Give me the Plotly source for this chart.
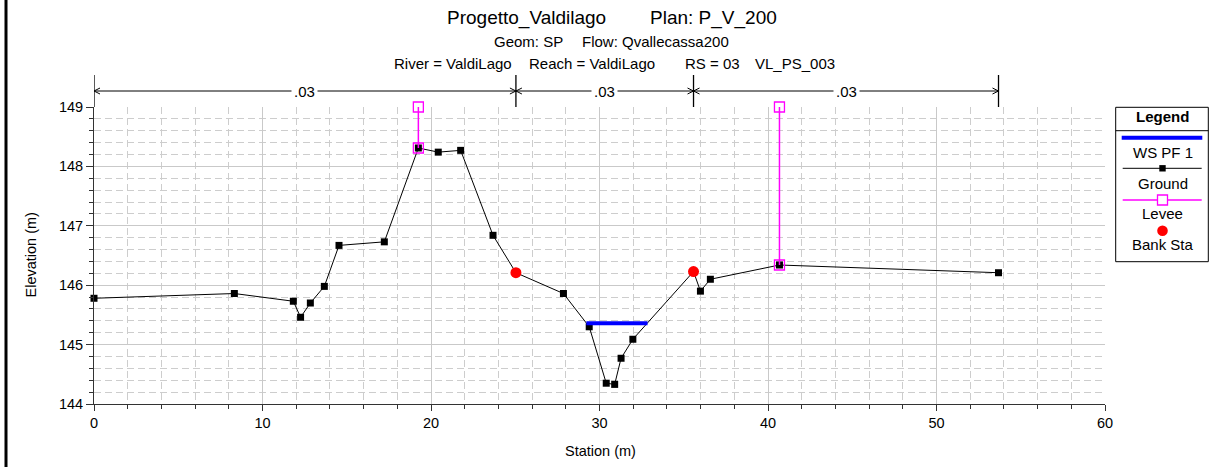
import plotly.graph_objects as go

# ---------------- data ----------------
ground_sta = [0.0, 8.33, 11.83, 12.26, 12.84, 13.67, 14.54, 17.23, 19.25, 20.43, 21.76,
              23.68, 25.04, 27.86, 29.39, 30.40, 30.90, 31.28, 31.98, 35.58, 35.99,
              36.58, 40.68, 53.68]
ground_elev = [145.78, 145.86, 145.73, 145.46, 145.70, 145.98, 146.67, 146.73, 148.31,
               148.24, 148.27, 146.84, 146.21, 145.86, 145.30, 144.35, 144.33, 144.77,
               145.09, 146.23, 145.90, 146.10, 146.34, 146.21]

ws_sta = [29.22, 32.85]
ws_elev = [145.36, 145.36]

levee_sta = [19.25, 40.68]
levee_top = [149.0, 149.0]
levee_ground = [148.31, 146.34]

bank_sta = [25.04, 35.58]
bank_elev = [146.21, 146.23]

n_sta = [0.0, 25.04, 35.58, 53.68]
n_vals = [".03", ".03", ".03"]

x_range = [0, 60]
y_range = [144, 149]
x_ticks = [0, 10, 20, 30, 40, 50, 60]
y_ticks = [144, 145, 146, 147, 148, 149]

# ---------------- layout geometry (pixels) ----------------
W_FIG, H_FIG = 1215, 467
L, R, T, B = 94, 1105, 107, 404
PW, PH = R - L, B - T
FONT = "Liberation Sans, Arial, sans-serif"


def px(x):
    return (x - L) / PW


def py(y):
    return (B - y) / PH


fig = go.Figure()

# Ground
fig.add_trace(go.Scatter(
    x=ground_sta, y=ground_elev, mode="lines+markers", name="Ground",
    line=dict(color="black", width=1),
    marker=dict(symbol="square", size=7, color="black"),
    cliponaxis=False, showlegend=False))

# Water surface
fig.add_trace(go.Scatter(
    x=ws_sta, y=ws_elev, mode="lines", name="WS PF 1",
    line=dict(color="#0000ff", width=4), showlegend=False))

# Levees
lx, ly = [], []
for s, top, g in zip(levee_sta, levee_top, levee_ground):
    lx += [s, s, None]
    ly += [top, g, None]
fig.add_trace(go.Scatter(
    x=lx, y=ly, mode="lines+markers", name="Levee",
    line=dict(color="#ff00ff", width=1.5),
    marker=dict(symbol="square-open", size=10, color="#ff00ff", line=dict(width=1.3)),
    cliponaxis=False, showlegend=False))

# Bank stations
fig.add_trace(go.Scatter(
    x=bank_sta, y=bank_elev, mode="markers", name="Bank Sta",
    marker=dict(symbol="circle", size=11, color="#ff0000"),
    cliponaxis=False, showlegend=False))

shapes = []
annotations = []

# ---------- Manning's n bar above the plot ----------
n_y = py(91)
x_per_px = (x_range[1] - x_range[0]) / PW
dx = 6 * x_per_px
dy = 3 / PH
shapes.append(dict(type="line", xref="x", yref="paper", x0=n_sta[0], x1=n_sta[-1],
                   y0=n_y, y1=n_y, line=dict(color="black", width=1)))
for s in n_sta:
    shapes.append(dict(type="line", xref="x", yref="paper", x0=s, x1=s,
                       y0=1.0, y1=py(75), line=dict(color="black", width=1.3)))
for a, b_ in zip(n_sta[:-1], n_sta[1:]):
    shapes.append(dict(type="path", xref="x", yref="paper",
                       path=f"M {a+dx},{n_y+dy} L {a},{n_y} L {a+dx},{n_y-dy}",
                       line=dict(color="black", width=1)))
    shapes.append(dict(type="path", xref="x", yref="paper",
                       path=f"M {b_-dx},{n_y+dy} L {b_},{n_y} L {b_-dx},{n_y-dy}",
                       line=dict(color="black", width=1)))
for a, b_, v in zip(n_sta[:-1], n_sta[1:], n_vals):
    annotations.append(dict(x=(a + b_) / 2, y=n_y, xref="x", yref="paper", text=v,
                            showarrow=False, bgcolor="white", borderpad=2,
                            font=dict(family=FONT, size=15, color="black"),
                            xanchor="center", yanchor="middle"))

# ---------- titles ----------
title_parts = [
    ("Progetto_Valdilago", 445, 17.8, 19),
    ("Plan: P_V_200", 648, 17.8, 19),
    ("Geom: SP", 492, 41.2, 15),
    ("Flow: Qvallecassa200", 580, 41.2, 15),
    ("River = ValdiLago", 392, 63.3, 15),
    ("Reach = ValdiLago", 527, 63.3, 15),
    ("RS = 03", 683, 63.3, 15),
    ("VL_PS_003", 753, 63.3, 15),
]
for txt, xl, yc, sz in title_parts:
    annotations.append(dict(x=px(xl), y=py(yc), xref="paper", yref="paper", text=txt,
                            showarrow=False, xanchor="left", yanchor="middle",
                            font=dict(family=FONT, size=sz, color="black")))

# axis titles
annotations.append(dict(x=px(600), y=py(451), xref="paper", yref="paper", text="Station (m)",
                        showarrow=False, xanchor="center", yanchor="middle",
                        font=dict(family=FONT, size=14.5, color="black")))
annotations.append(dict(x=px(30), y=py(255.5), xref="paper", yref="paper", text="Elevation (m)",
                        showarrow=False, xanchor="center", yanchor="middle", textangle=-90,
                        font=dict(family=FONT, size=14.5, color="black")))

# ---------- legend box (drawn manually) ----------
lx0, lx1, ly0, ly1 = 1115.7, 1208.3, 107.3, 261.7
cx = 1162.5
shapes.append(dict(type="rect", xref="paper", yref="paper", x0=px(lx0), x1=px(lx1),
                   y0=py(ly1), y1=py(ly0), line=dict(color="black", width=1), fillcolor="white",
                   layer="above"))
shapes.append(dict(type="line", xref="paper", yref="paper", x0=px(lx0), x1=px(lx1),
                   y0=py(130.7), y1=py(130.7), line=dict(color="black", width=1)))
shapes.append(dict(type="line", xref="paper", yref="paper", x0=px(1121.7), x1=px(1202.3),
                   y0=py(137.7), y1=py(137.7), line=dict(color="#0000ff", width=4)))
shapes.append(dict(type="line", xref="paper", yref="paper", x0=px(1122.7), x1=px(1201.7),
                   y0=py(168.3), y1=py(168.3), line=dict(color="black", width=1)))
shapes.append(dict(type="rect", xref="paper", yref="paper", x0=px(cx - 3.2), x1=px(cx + 3.2),
                   y0=py(168.3 + 3.2), y1=py(168.3 - 3.2), line=dict(width=0), fillcolor="black"))
shapes.append(dict(type="line", xref="paper", yref="paper", x0=px(1122.7), x1=px(1201.7),
                   y0=py(200), y1=py(200), line=dict(color="#ff00ff", width=1.5)))
shapes.append(dict(type="rect", xref="paper", yref="paper", x0=px(cx - 5), x1=px(cx + 5),
                   y0=py(205), y1=py(195), line=dict(color="#ff00ff", width=1.3), fillcolor="white"))
shapes.append(dict(type="circle", xref="paper", yref="paper", x0=px(cx - 5.3), x1=px(cx + 5.3),
                   y0=py(230.7 + 5.3), y1=py(230.7 - 5.3), line=dict(width=0), fillcolor="#ff0000"))

for txt, yc, bold in [("Legend", 116.5, True), ("WS PF 1", 152, False), ("Ground", 183, False),
                      ("Levee", 213.7, False), ("Bank Sta", 244.5, False)]:
    annotations.append(dict(x=px(cx), y=py(yc), xref="paper", yref="paper",
                            text=f"<b>{txt}</b>" if bold else txt, showarrow=False,
                            xanchor="center", yanchor="middle",
                            font=dict(family=FONT, size=15, color="black")))

# left frame line
shapes.append(dict(type="line", xref="paper", yref="paper", x0=px(6), x1=px(6),
                   y0=py(0), y1=py(467), line=dict(color="black", width=3)))

grid_major = "#c9c9c9"
grid_minor = "#cdcdcd"

fig.update_layout(
    width=W_FIG, height=H_FIG,
    margin=dict(l=L, r=W_FIG - R, t=T, b=H_FIG - B, autoexpand=False),
    paper_bgcolor="white", plot_bgcolor="white",
    font=dict(family=FONT, size=14.5, color="black"),
    showlegend=False,
    shapes=shapes, annotations=annotations,
    xaxis=dict(range=x_range, tickvals=x_ticks, showgrid=True, gridcolor=grid_major, gridwidth=1,
               zeroline=False, showline=True, linecolor="#333333", linewidth=1,
               ticks="outside", ticklen=6, tickcolor="#333333",
               tickfont=dict(family=FONT, size=14.5, color="black"),
               minor=dict(dtick=2, showgrid=True, gridcolor=grid_minor, griddash="7px,4px",
                          ticks="outside", ticklen=4, tickcolor="#333333")),
    yaxis=dict(range=y_range, tickvals=y_ticks, showgrid=True, gridcolor=grid_major, gridwidth=1,
               zeroline=False, showline=True, linecolor="#333333", linewidth=1,
               ticks="outside", ticklen=7, tickcolor="#333333",
               tickfont=dict(family=FONT, size=14.5, color="black"),
               minor=dict(dtick=0.2, showgrid=True, gridcolor=grid_minor, griddash="7px,4px",
                          ticks="outside", ticklen=4, tickcolor="#333333")),
)

fig.write_html("out.html", config={"displayModeBar": False},
               post_script="document.body.style.margin='0px';document.body.style.overflow='hidden';")
